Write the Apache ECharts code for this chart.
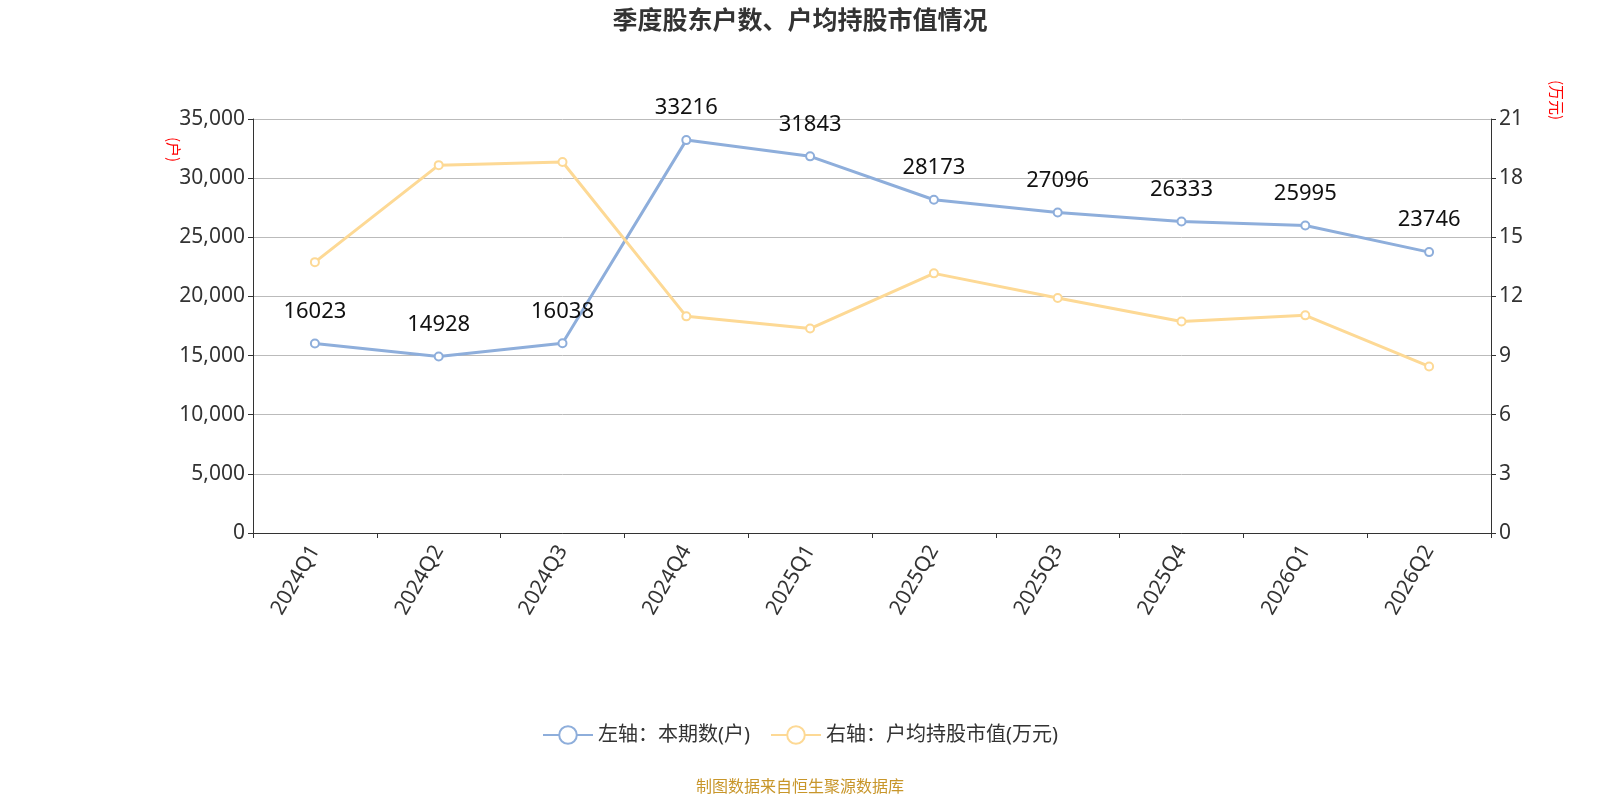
<!DOCTYPE html>
<html><head><meta charset="utf-8">
<script src="https://cdn.jsdelivr.net/npm/echarts@6/dist/echarts.min.js"></script>
<style>html,body{margin:0;padding:0;}#c{width:1600px;height:800px;}</style>
</head><body><div id="c"></div>
<script>
const categories = ['2024Q1','2024Q2','2024Q3','2024Q4','2025Q1','2025Q2','2025Q3','2025Q4','2026Q1','2026Q2'];
const holders = [16023,14928,16038,33216,31843,28173,27096,26333,25995,23746];
const avgValue = [13.74,18.66,18.82,10.99,10.37,13.17,11.92,10.73,11.04,8.45];
const leftTicks = {min:0,max:35000,interval:5000};
const rightTicks = {min:0,max:21,interval:3};
const font = '"Noto Sans","Noto Sans CJK SC",sans-serif';
const chart = echarts.init(document.getElementById('c'));
chart.setOption({
  textStyle:{fontFamily:font},
  title:{text:'季度股东户数、户均持股市值情况',left:'center',top:4,textStyle:{fontSize:25,fontWeight:'bold',color:'#333',fontFamily:font}},
  grid:{left:253,right:109,top:119,bottom:267},
  legend:{bottom:50,itemWidth:50,itemHeight:22,itemGap:20,textStyle:{fontSize:20,color:'#333'},
    data:['左轴：本期数(户)','右轴：户均持股市值(万元)']},
  graphic:[
    {type:'text',left:'center',top:778,style:{text:'制图数据来自恒生聚源数据库',fill:'#c8962a',font:'16px "Noto Sans CJK SC"'}},
    {type:'text',x:181,y:137,rotation:-Math.PI/2,style:{text:'(户)',fill:'#f00',font:'15px "Noto Sans CJK SC"'}},
    {type:'text',x:1564,y:80,rotation:-Math.PI/2,style:{text:'(万元)',fill:'#f00',font:'15px "Noto Sans CJK SC"'}}
  ],
  xAxis:{type:'category',data:categories,boundaryGap:true,
    axisLine:{lineStyle:{color:'#333'}},axisTick:{show:true,lineStyle:{color:'#333'}},
    axisLabel:{rotate:60,fontSize:21,color:'#333',margin:14}},
  yAxis:[
    {type:'value',...leftTicks,position:'left',axisLine:{show:true,lineStyle:{color:'#333'}},axisTick:{show:true},
     axisLabel:{fontSize:21,color:'#333'},splitLine:{lineStyle:{color:'#bbb'}}},
    {type:'value',...rightTicks,position:'right',axisLine:{show:true,lineStyle:{color:'#333'}},axisTick:{show:true},
     axisLabel:{fontSize:21,color:'#333'},splitLine:{show:false}}
  ],
  series:[
    {name:'左轴：本期数(户)',type:'line',yAxisIndex:0,data:holders,symbol:'emptyCircle',symbolSize:8,
     itemStyle:{color:'#8eaedb'},lineStyle:{color:'#8eaedb',width:3},
     label:{show:true,position:'top',fontSize:22,color:'#111',distance:16}},
    {name:'右轴：户均持股市值(万元)',type:'line',yAxisIndex:1,data:avgValue,symbol:'emptyCircle',symbolSize:8,
     itemStyle:{color:'#fdd995'},lineStyle:{color:'#fdd995',width:3}}
  ]
});
</script></body></html>
